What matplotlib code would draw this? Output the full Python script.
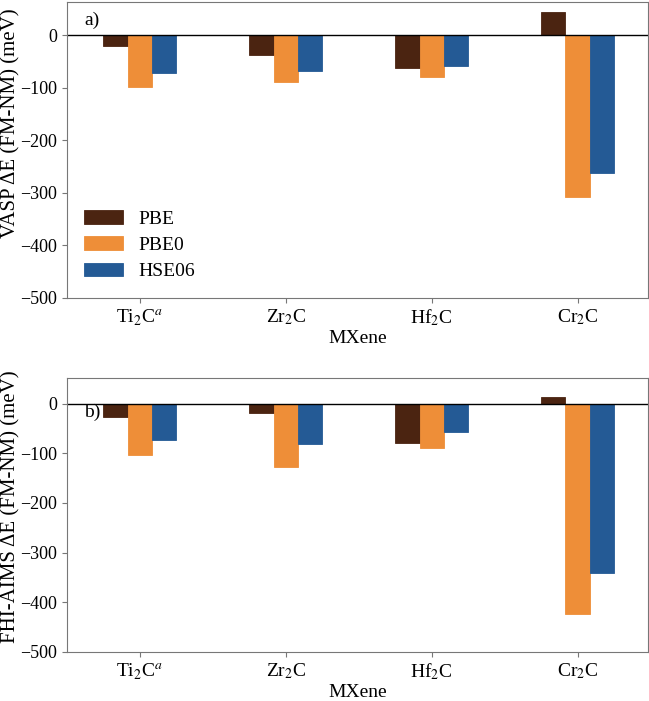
import numpy as np
import matplotlib.pyplot as plt

plt.rcParams['font.family'] = ['Liberation Serif', 'DejaVu Serif']
plt.rcParams['mathtext.fontset'] = 'stix'
plt.rcParams['font.size'] = 14

mxenes = ['Ti$_2$C$^a$', 'Zr$_2$C', 'Hf$_2$C', 'Cr$_2$C']
methods = ['PBE', 'PBE0', 'HSE06']
colors = ['#4b2411', '#ee8e38', '#245a95']

vasp_pbe = [-21, -38, -63, 44]
vasp_pbe0 = [-99, -89, -80, -308]
vasp_hse = [-72, -68, -59, -262]

aims_pbe = [-26, -18, -79, 14]
aims_pbe0 = [-103, -127, -89, -423]
aims_hse = [-73, -81, -58, -341]

fig = plt.figure(figsize=(6.49, 7.01), dpi=100)
ax1 = fig.add_axes([0.103, 0.575, 0.895, 0.422])
ax2 = fig.add_axes([0.103, 0.070, 0.895, 0.391])

x = np.arange(len(mxenes))
w = 0.167


def draw(ax, data, ylabel, tag, tag_y, ylim_top, label_y):
    for i, (vals, c, m) in enumerate(zip(data, colors, methods)):
        ax.bar(x + (i - 1) * w, vals, w, color=c, edgecolor=c, linewidth=0.6, label=m)
    ax.axhline(0, color='black', linewidth=1)
    ax.set_xlim(-0.5, 3.48)
    ax.set_ylim(-500, ylim_top)
    ax.set_yticks([0, -100, -200, -300, -400, -500])
    ax.set_yticklabels(['0', '\u2212100', '\u2212200', '\u2212300', '\u2212400', '\u2212500'],
                       fontsize=13)
    ax.set_xticks(x)
    ax.set_xticklabels(mxenes)
    ax.set_xlabel('MXene', labelpad=1)
    ax.set_ylabel(ylabel, fontsize=15)
    ax.yaxis.set_label_coords(-0.08, label_y)
    for s in ax.spines.values():
        s.set_color('#777777')
    ax.tick_params(colors='#777777', labelcolor='black')
    ax.text(0.03, tag_y, tag, transform=ax.transAxes, va='center')


draw(ax1, [vasp_pbe, vasp_pbe0, vasp_hse], 'VASP \u0394E (FM-NM) (meV)', 'a)', 0.94, 63, 0.59)
draw(ax2, [aims_pbe, aims_pbe0, aims_hse], 'FHI-AIMS \u0394E (FM-NM) (meV)', 'b)', 0.875, 52, 0.53)

ax1.legend(loc='lower left', frameon=False, handlelength=2.0, handleheight=0.7,
           labelspacing=0.45, handletextpad=0.8)

fig.savefig('out.png', dpi=100)
